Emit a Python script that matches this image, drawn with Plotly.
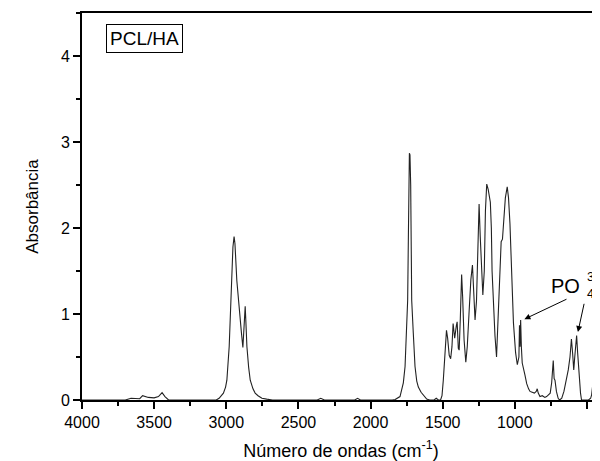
import plotly.graph_objects as go

# Spectrum points (wavenumber cm-1, absorbance)
wavenumber = [
    4000, 3700, 3660, 3620, 3600, 3580, 3560, 3540, 3500, 3470, 3445, 3425, 3400,
    3100, 3070, 3050, 3020, 3005, 2996, 2980, 2972, 2961, 2954, 2946, 2940, 2927,
    2909, 2895, 2885, 2877, 2869, 2864, 2857, 2845, 2834, 2815, 2800, 2780, 2753,
    2720, 2680, 2370, 2345, 2320, 2110, 2090, 2070,
    1850, 1830, 1796, 1773, 1761, 1750, 1743, 1738, 1734, 1731, 1727, 1722, 1718,
    1715, 1704, 1692, 1680, 1669, 1650, 1634, 1611, 1590, 1560, 1545, 1530, 1515,
    1512, 1505, 1496, 1485, 1474, 1466, 1455, 1445, 1436, 1428, 1417, 1406, 1400,
    1392, 1386, 1378, 1369, 1362, 1352, 1340, 1330, 1318, 1305, 1294, 1286, 1276,
    1266, 1256, 1248, 1240, 1231, 1222, 1212, 1204, 1195, 1185, 1170, 1163, 1158,
    1148, 1138, 1127, 1118, 1108, 1095, 1086, 1075, 1066, 1053, 1044, 1034, 1022,
    1010, 995, 983, 972, 968, 964, 960, 955, 949, 930, 918, 905, 895, 880, 865,
    852, 845, 838, 826, 810, 792, 780, 769, 755, 745, 734, 728, 722, 712, 700, 690,
    675, 660, 643, 630, 618, 608, 600, 592, 585, 572, 565, 555, 545, 538, 490, 475,
    468, 462, 458, 453, 445, 430, 410,
]
absorbance = [
    0.0, 0.0, 0.02, 0.02, 0.015, 0.05, 0.04, 0.03, 0.025, 0.04, 0.085, 0.04, 0.0,
    0.0, 0.0, 0.02, 0.08, 0.15, 0.23, 0.62, 1.0, 1.39, 1.78, 1.9, 1.82, 1.39,
    1.0, 0.78, 0.61, 0.85, 1.09, 0.9, 0.62, 0.38, 0.23, 0.13, 0.08, 0.05, 0.02,
    0.01, 0.0, 0.0, 0.02, 0.0, 0.0, 0.02, 0.0,
    0.0, 0.005, 0.04, 0.2, 0.39, 0.78, 1.16, 1.9, 2.5, 2.87, 2.85, 2.5, 1.9,
    1.16, 0.78, 0.39, 0.22, 0.15, 0.09, 0.06, 0.01, 0.0, 0.0, 0.02, 0.0, 0.0,
    0.02, 0.05, 0.23, 0.6, 0.81, 0.72, 0.52, 0.48, 0.62, 0.89, 0.72, 0.86, 0.91,
    0.6, 0.58, 0.95, 1.46, 1.2, 0.7, 0.44, 0.62, 1.0, 1.4, 1.57, 1.2, 0.93,
    1.15, 1.7, 2.28, 1.9, 1.45, 1.22, 1.5, 2.2, 2.51, 2.45, 2.3, 2.0, 1.5,
    1.1, 0.75, 0.5, 0.85, 1.4, 1.84, 1.87, 2.1, 2.35, 2.48, 2.35, 2.05, 1.35,
    0.9, 0.55, 0.41, 0.5, 0.87, 0.62, 0.93, 0.62, 0.43, 0.29, 0.19, 0.13, 0.1, 0.09, 0.08,
    0.1, 0.13, 0.08, 0.04, 0.05, 0.03, 0.04, 0.06, 0.08, 0.2, 0.46, 0.25, 0.23, 0.1, 0.02, 0.0,
    0.02, 0.1, 0.23, 0.35, 0.5, 0.71, 0.55, 0.35, 0.5, 0.75, 0.55, 0.25, 0.08, 0.0, 0.0, 0.02,
    0.06, 0.15, 0.18, 0.1, 0.04, 0.02, 0.02,
]

x_ticks = [4000, 3500, 3000, 2500, 2000, 1500, 1000, 500]
y_ticks = [0, 1, 2, 3, 4]

font_family = "Liberation Sans, Arial, sans-serif"

fig = go.Figure()
fig.add_trace(go.Scatter(
    x=wavenumber, y=absorbance, mode="lines",
    line=dict(color="#222222", width=1.1), showlegend=False,
))

# The page body has an 8px default margin, so the figure is 8px smaller
# than the window in both directions.
fig.update_layout(
    width=592, height=453,
    margin=dict(l=74, r=0, t=5, b=61),
    paper_bgcolor="white", plot_bgcolor="white",
    font=dict(family=font_family, color="black"),
    xaxis=dict(
        range=[4000, 410], tickvals=x_ticks, ticktext=[str(v) for v in x_ticks],
        ticks="outside", ticklen=7, tickwidth=1.5, tickcolor="black",
        minor=dict(dtick=250, ticks="outside", ticklen=4, tickwidth=1.5, tickcolor="black"),
        showline=True, linecolor="black", linewidth=2, mirror=True,
        showgrid=False, zeroline=False, automargin=False,
        tickfont=dict(size=16, family=font_family),
        title=dict(text="Número de ondas (cm<sup>-1</sup>)", font=dict(size=18, family=font_family), standoff=15),
    ),
    yaxis=dict(
        range=[0, 4.5], tickvals=y_ticks, ticktext=[str(v) for v in y_ticks],
        ticks="outside", ticklen=7, tickwidth=1.5, tickcolor="black",
        minor=dict(dtick=0.5, ticks="outside", ticklen=4, tickwidth=1.5, tickcolor="black"),
        showline=True, linecolor="black", linewidth=2, mirror=False,
        showgrid=False, zeroline=False, automargin=False,
        tickfont=dict(size=16, family=font_family),
        title=dict(text="Absorbância", font=dict(size=17, family=font_family), standoff=18),
    ),
)

fig.add_annotation(
    x=3565, y=4.2, xref="x", yref="y", text="PCL/HA", showarrow=False,
    font=dict(size=19, family=font_family, color="black"),
    bordercolor="black", borderwidth=1, borderpad=3, bgcolor="white",
)

# PO4 3- label
fig.add_annotation(x=646, y=1.327, xref="x", yref="y", text="PO", showarrow=False,
                   font=dict(size=20, family=font_family, color="black"))
fig.add_annotation(x=0.971, y=0.276, xref="paper", yref="paper", text="4", showarrow=False,
                   xanchor="left", yanchor="middle",
                   font=dict(size=13, family=font_family, color="black"))
fig.add_annotation(x=0.971, y=0.318, xref="paper", yref="paper", text="3-", showarrow=False,
                   xanchor="left", yanchor="middle",
                   font=dict(size=13, family=font_family, color="black"))

# Arrows
fig.add_annotation(x=934, y=0.94, ax=632, ay=1.18, xref="x", yref="y", axref="x", ayref="y",
                   text="", showarrow=True, arrowhead=2, arrowsize=1.2, arrowwidth=1, arrowcolor="black")
fig.add_annotation(x=563, y=0.79, ax=518, ay=1.136, xref="x", yref="y", axref="x", ayref="y",
                   text="", showarrow=True, arrowhead=2, arrowsize=1.2, arrowwidth=1, arrowcolor="black")

fig.write_html("out.html")
